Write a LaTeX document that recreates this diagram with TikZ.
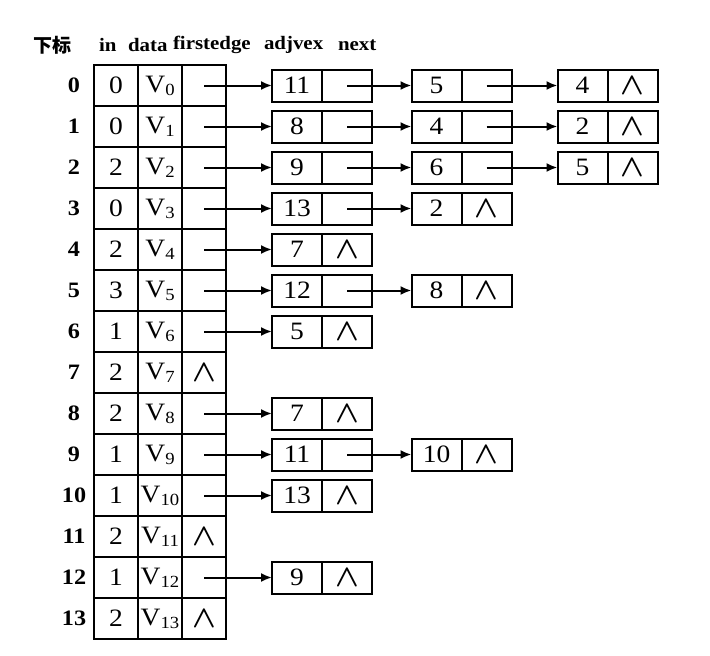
\documentclass[tikz,border=0pt]{standalone}
\usepackage{fix-cm}
\usepackage{fontspec}
\setmainfont{Liberation Serif}[FakeStretch=1.1]
\newfontfamily\cjk{Noto Sans CJK SC}
\usetikzlibrary{arrows.meta,positioning}

\newcommand{\vtx}[1]{V\raisebox{-3pt}{\fontsize{17}{17}\selectfont #1}}
\newcommand{\nil}{{\fontsize{31}{31}\selectfont\boldmath$\wedge$}}

\begin{document}
\begin{tikzpicture}[x=1pt,y=-1pt,->,>={Latex[length=11pt,width=9pt]},line width=2pt,
  vcell/.style={-,draw,minimum width=44pt,minimum height=41pt,inner sep=0pt,outer sep=0pt,font=\fontsize{25}{25}\selectfont},
  ecell/.style={-,draw,minimum width=50pt,minimum height=32pt,inner sep=0pt,outer sep=0pt,font=\fontsize{25}{25}\selectfont},
  idx/.style={font=\bfseries\fontsize{22}{22}\selectfont},
  head/.style={anchor=west,inner sep=0pt,font=\bfseries\fontsize{19}{19}\selectfont}]

    \useasboundingbox (0,0) rectangle (710,656);

    % column titles
    \node[head] (hidx) at (33,45) {\cjk\bfseries 下标};
    \node[head] (hin) at (98,45) {in};
    \node[head] (hdata) at (127,45) {data};
    \node[head] (hfirst) at (172,45) {firstedge};
    \node[head] (hadj) at (263,45) {adjvex};
    \node[head] (hnext) at (337,45) {next};

    % vertex table
    \node[idx] (i0) at (74,85.5) {0};
    \node[vcell] (in0) at (116,85.5) {0};
    \node[vcell] (d0) at (160,85.5) {\vtx{0}};
    \node[vcell] (f0) at (204,85.5) {};

    \node[idx] (i1) at (74,126.5) {1};
    \node[vcell] (in1) at (116,126.5) {0};
    \node[vcell] (d1) at (160,126.5) {\vtx{1}};
    \node[vcell] (f1) at (204,126.5) {};

    \node[idx] (i2) at (74,167.5) {2};
    \node[vcell] (in2) at (116,167.5) {2};
    \node[vcell] (d2) at (160,167.5) {\vtx{2}};
    \node[vcell] (f2) at (204,167.5) {};

    \node[idx] (i3) at (74,208.5) {3};
    \node[vcell] (in3) at (116,208.5) {0};
    \node[vcell] (d3) at (160,208.5) {\vtx{3}};
    \node[vcell] (f3) at (204,208.5) {};

    \node[idx] (i4) at (74,249.5) {4};
    \node[vcell] (in4) at (116,249.5) {2};
    \node[vcell] (d4) at (160,249.5) {\vtx{4}};
    \node[vcell] (f4) at (204,249.5) {};

    \node[idx] (i5) at (74,290.5) {5};
    \node[vcell] (in5) at (116,290.5) {3};
    \node[vcell] (d5) at (160,290.5) {\vtx{5}};
    \node[vcell] (f5) at (204,290.5) {};

    \node[idx] (i6) at (74,331.5) {6};
    \node[vcell] (in6) at (116,331.5) {1};
    \node[vcell] (d6) at (160,331.5) {\vtx{6}};
    \node[vcell] (f6) at (204,331.5) {};

    \node[idx] (i7) at (74,372.5) {7};
    \node[vcell] (in7) at (116,372.5) {2};
    \node[vcell] (d7) at (160,372.5) {\vtx{7}};
    \node[vcell] (f7) at (204,372.5) {\nil};

    \node[idx] (i8) at (74,413.5) {8};
    \node[vcell] (in8) at (116,413.5) {2};
    \node[vcell] (d8) at (160,413.5) {\vtx{8}};
    \node[vcell] (f8) at (204,413.5) {};

    \node[idx] (i9) at (74,454.5) {9};
    \node[vcell] (in9) at (116,454.5) {1};
    \node[vcell] (d9) at (160,454.5) {\vtx{9}};
    \node[vcell] (f9) at (204,454.5) {};

    \node[idx] (i10) at (74,495.5) {10};
    \node[vcell] (in10) at (116,495.5) {1};
    \node[vcell] (d10) at (160,495.5) {\vtx{10}};
    \node[vcell] (f10) at (204,495.5) {};

    \node[idx] (i11) at (74,536.5) {11};
    \node[vcell] (in11) at (116,536.5) {2};
    \node[vcell] (d11) at (160,536.5) {\vtx{11}};
    \node[vcell] (f11) at (204,536.5) {\nil};

    \node[idx] (i12) at (74,577.5) {12};
    \node[vcell] (in12) at (116,577.5) {1};
    \node[vcell] (d12) at (160,577.5) {\vtx{12}};
    \node[vcell] (f12) at (204,577.5) {};

    \node[idx] (i13) at (74,618.5) {13};
    \node[vcell] (in13) at (116,618.5) {2};
    \node[vcell] (d13) at (160,618.5) {\vtx{13}};
    \node[vcell] (f13) at (204,618.5) {\nil};

    % edge lists
    \node[ecell] (a00) at (297,85.5) {11};
    \node[ecell,right=0pt of a00] (n00) {};
    \node[ecell] (a01) at (436.5,85.5) {5};
    \node[ecell,right=0pt of a01] (n01) {};
    \node[ecell] (a02) at (582.5,85.5) {4};
    \node[ecell,right=0pt of a02] (n02) {\nil};
    \draw (f0.center) -- (a00.west);
    \draw (n00.center) -- (a01.west);
    \draw (n01.center) -- (a02.west);

    \node[ecell] (a10) at (297,126.5) {8};
    \node[ecell,right=0pt of a10] (n10) {};
    \node[ecell] (a11) at (436.5,126.5) {4};
    \node[ecell,right=0pt of a11] (n11) {};
    \node[ecell] (a12) at (582.5,126.5) {2};
    \node[ecell,right=0pt of a12] (n12) {\nil};
    \draw (f1.center) -- (a10.west);
    \draw (n10.center) -- (a11.west);
    \draw (n11.center) -- (a12.west);

    \node[ecell] (a20) at (297,167.5) {9};
    \node[ecell,right=0pt of a20] (n20) {};
    \node[ecell] (a21) at (436.5,167.5) {6};
    \node[ecell,right=0pt of a21] (n21) {};
    \node[ecell] (a22) at (582.5,167.5) {5};
    \node[ecell,right=0pt of a22] (n22) {\nil};
    \draw (f2.center) -- (a20.west);
    \draw (n20.center) -- (a21.west);
    \draw (n21.center) -- (a22.west);

    \node[ecell] (a30) at (297,208.5) {13};
    \node[ecell,right=0pt of a30] (n30) {};
    \node[ecell] (a31) at (436.5,208.5) {2};
    \node[ecell,right=0pt of a31] (n31) {\nil};
    \draw (f3.center) -- (a30.west);
    \draw (n30.center) -- (a31.west);

    \node[ecell] (a40) at (297,249.5) {7};
    \node[ecell,right=0pt of a40] (n40) {\nil};
    \draw (f4.center) -- (a40.west);

    \node[ecell] (a50) at (297,290.5) {12};
    \node[ecell,right=0pt of a50] (n50) {};
    \node[ecell] (a51) at (436.5,290.5) {8};
    \node[ecell,right=0pt of a51] (n51) {\nil};
    \draw (f5.center) -- (a50.west);
    \draw (n50.center) -- (a51.west);

    \node[ecell] (a60) at (297,331.5) {5};
    \node[ecell,right=0pt of a60] (n60) {\nil};
    \draw (f6.center) -- (a60.west);

    \node[ecell] (a80) at (297,413.5) {7};
    \node[ecell,right=0pt of a80] (n80) {\nil};
    \draw (f8.center) -- (a80.west);

    \node[ecell] (a90) at (297,454.5) {11};
    \node[ecell,right=0pt of a90] (n90) {};
    \node[ecell] (a91) at (436.5,454.5) {10};
    \node[ecell,right=0pt of a91] (n91) {\nil};
    \draw (f9.center) -- (a90.west);
    \draw (n90.center) -- (a91.west);

    \node[ecell] (a100) at (297,495.5) {13};
    \node[ecell,right=0pt of a100] (n100) {\nil};
    \draw (f10.center) -- (a100.west);

    \node[ecell] (a120) at (297,577.5) {9};
    \node[ecell,right=0pt of a120] (n120) {\nil};
    \draw (f12.center) -- (a120.west);
\end{tikzpicture}
\end{document}
